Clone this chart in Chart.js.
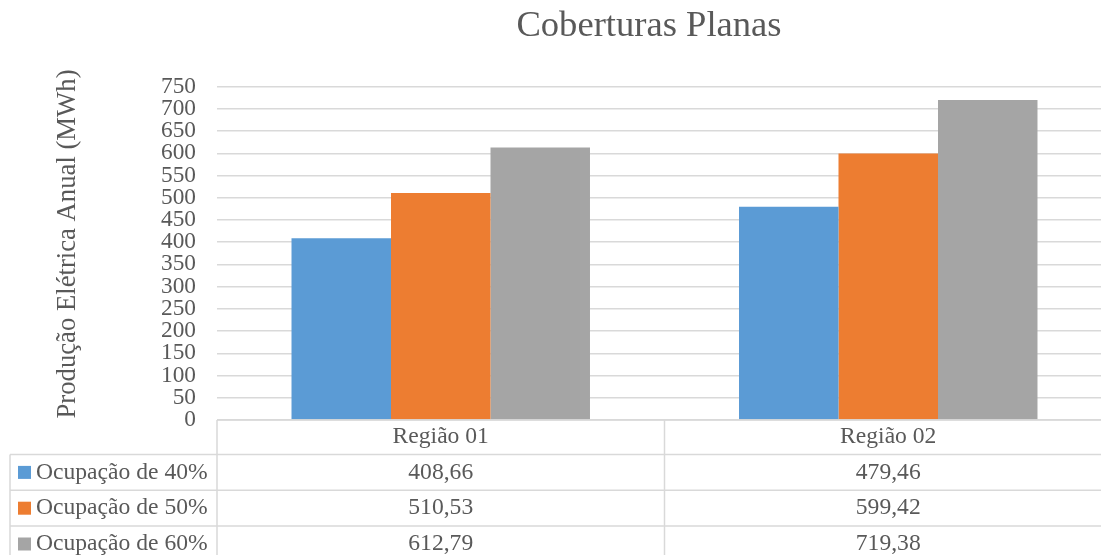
<!DOCTYPE html>
<html>
<head>
<meta charset="utf-8">
<script src="https://cdn.jsdelivr.net/npm/chart.js@4.4.1/dist/chart.umd.min.js"></script>
<style>
  html, body { margin: 0; padding: 0; overflow: hidden; background: #fff; }
  #wrap { width: 1112px; height: 555px; }
</style>
</head>
<body>
<div id="wrap"><canvas id="c" width="1112" height="555"></canvas></div>
<script>
// Categories, series and axis ticks
const categories = ['Região 01', 'Região 02'];
const seriesNames = ['Ocupação de 40%', 'Ocupação de 50%', 'Ocupação de 60%'];
const occupation40 = [408.66, 479.46];
const occupation50 = [510.53, 599.42];
const occupation60 = [612.79, 719.38];
const yMin = 0;
const yMax = 750;
const yStep = 50;
const chartTitle = 'Coberturas Planas';
const yAxisTitle = 'Produção Elétrica Anual (MWh)';

// Styling
const seriesColors = ['#5B9BD5', '#ED7D31', '#A5A5A5'];
const textColor = '#595959';
const lineColor = '#d9d9d9';
const serif = '"Liberation Serif", "Times New Roman", serif';
const tickSize = 23.3;
const tableSize = 23.6;

const formatValue = v => v.toFixed(2).replace('.', ',');

// Chart title and rotated value-axis title
const titlePlugin = {
  id: 'titleText',
  afterDraw(chart) {
    const ctx = chart.ctx;
    ctx.save();
    ctx.fillStyle = textColor;
    ctx.font = `36.6px ${serif}`;
    ctx.textAlign = 'center';
    ctx.textBaseline = 'middle';
    ctx.fillText(chartTitle, 649, 26);

    ctx.font = `26.7px ${serif}`;
    ctx.translate(68, 244);
    ctx.rotate(-Math.PI / 2);
    ctx.fillText(yAxisTitle, 0, 0);
    ctx.restore();
  }
};

// Data table under the plot, aligned with the category scale
const dataTable = {
  id: 'dataTable',
  afterDraw(chart) {
    const { ctx, chartArea, scales: { x } } = chart;
    const W = chart.width, H = chart.height;
    const top = chartArea.bottom;
    const headerH = 34.5;
    const rowH = 35.8;
    const tableLeft = 10;
    const half = (x.getPixelForValue(1) - x.getPixelForValue(0)) / 2;
    const nRows = chart.data.datasets.length;

    ctx.save();
    ctx.strokeStyle = lineColor;
    ctx.lineWidth = 1.5;
    const hLine = (y, x0) => { ctx.beginPath(); ctx.moveTo(x0, y); ctx.lineTo(W, y); ctx.stroke(); };
    const vLine = (xx, y0) => { ctx.beginPath(); ctx.moveTo(xx, y0); ctx.lineTo(xx, H); ctx.stroke(); };

    hLine(top, chartArea.left);
    for (let r = 0; r <= nRows; r++) hLine(top + headerH + r * rowH, tableLeft);
    vLine(chartArea.left, top);
    for (let i = 1; i < chart.data.labels.length; i++) vLine(x.getPixelForValue(i) - half, top);
    vLine(tableLeft, top + headerH);

    ctx.font = `${tableSize}px ${serif}`;
    ctx.textBaseline = 'middle';
    ctx.textAlign = 'center';
    ctx.fillStyle = textColor;
    chart.data.labels.forEach((lab, i) => ctx.fillText(lab, x.getPixelForValue(i), top + headerH / 2));

    chart.data.datasets.forEach((ds, r) => {
      const cy = top + headerH + r * rowH + rowH / 2;
      ctx.fillStyle = textColor;
      ctx.textAlign = 'center';
      ds.data.forEach((v, i) => ctx.fillText(formatValue(v), x.getPixelForValue(i), cy));
      ctx.fillStyle = ds.backgroundColor;
      ctx.fillRect(18, cy - 6.5, 13, 13);
      ctx.fillStyle = textColor;
      ctx.textAlign = 'left';
      ctx.fillText(ds.label, 36, cy);
    });
    ctx.restore();
  }
};

const seriesValues = [occupation40, occupation50, occupation60];

new Chart(document.getElementById('c'), {
  type: 'bar',
  data: {
    labels: categories,
    datasets: seriesNames.map((name, i) => ({
      label: name,
      data: seriesValues[i],
      backgroundColor: seriesColors[i],
      borderWidth: 0,
      categoryPercentage: 0.667,
      barPercentage: 1.0
    }))
  },
  options: {
    responsive: false,
    animation: false,
    layout: { padding: { top: 86.5, bottom: 135, left: 0, right: 0 } },
    plugins: {
      legend: { display: false },
      tooltip: { enabled: false },
      title: { display: false }
    },
    scales: {
      x: { display: false },
      y: {
        min: yMin,
        max: yMax,
        afterFit(scale) { scale.width = 217; },
        border: { display: false },
        grid: { color: lineColor, lineWidth: 1.4, drawTicks: false },
        ticks: {
          stepSize: yStep,
          autoSkip: false,
          padding: 21,
          color: textColor,
          font: { family: serif, size: tickSize, lineHeight: 1 }
        },
        title: { display: false }
      }
    }
  },
  plugins: [titlePlugin, dataTable]
});
</script>
</body>
</html>
